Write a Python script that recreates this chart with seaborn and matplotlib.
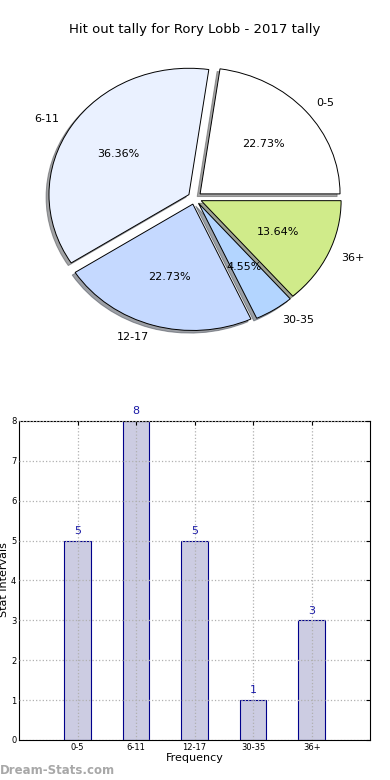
import matplotlib
matplotlib.use("Agg")
import matplotlib.pyplot as plt
import seaborn as sns
import pandas as pd

# data
intervals = ["0-5", "6-11", "12-17", "30-35", "36+"]
counts = [5, 8, 5, 1, 3]
pie_colors = ["#ffffff", "#eaf1ff", "#c5d9ff", "#b3d5ff", "#d0eb8a"]
title = "Hit out tally for Rory Lobb - 2017 tally"

sns.set_style("white")
plt.rcParams["font.family"] = ["DejaVu Sans"]
plt.rcParams["text.color"] = "black"
plt.rcParams["axes.labelcolor"] = "black"
plt.rcParams["xtick.color"] = "black"
plt.rcParams["ytick.color"] = "black"

fig = plt.figure(figsize=(3.9, 7.8), dpi=100)

# --- pie ---
ax_pie = fig.add_axes([0.051, 0.5436, 0.897, 0.405])
ax_pie.pie(
    counts,
    labels=intervals,
    colors=pie_colors,
    explode=[0.05] * len(counts),
    autopct="%.2f%%",
    shadow={"ox": -0.015, "oy": -0.015, "shade": 0.7},
    startangle=0,
    counterclock=True,
    wedgeprops={"edgecolor": "black", "linewidth": 0.7},
    textprops={"fontsize": 8, "color": "black"},
)
ax_pie.set_aspect("auto")
ax_pie.set_xlim(-1.25, 1.25)
ax_pie.set_ylim(-1.25, 1.25)
fig.text(0.5, 1 - 30 / 780, title, ha="center", va="center", fontsize=9.5)

# --- bars ---
df = pd.DataFrame({"interval": intervals, "count": counts})
ax = fig.add_axes([0.049, 0.0513, 0.9, 0.409])
sns.barplot(data=df, x="interval", y="count", order=intervals,
            color="#ccccE2", edgecolor="#00008b", linewidth=0.8,
            width=0.45, saturation=1, ax=ax)
ax.set_xlim(-1, 5)
ax.set_ylim(0, 8)
ax.set_yticks(range(0, 9))
ax.grid(True, linestyle=":", color="#b0b0b0", linewidth=0.9)
ax.set_axisbelow(False)
for s in ax.spines.values():
    s.set_visible(True)
    s.set_color("black")
    s.set_linewidth(0.8)
ax.tick_params(axis="both", labelsize=6, length=3, direction="in",
               top=True, right=True, pad=2)
for i, v in enumerate(counts):
    ax.text(i, v + 0.12, str(v), ha="center", va="bottom",
            fontsize=8, color="#1a1aa6")
ax.set_xlabel("Frequency", fontsize=8, labelpad=1)
ax.set_ylabel("")
fig.text(4 / 390, 1 - 580 / 780, "Stat Intervals", rotation=90,
         ha="center", va="center", fontsize=8)

fig.text(0.0, 1 - 771 / 780, "Dream-Stats.com", ha="left", va="center",
         fontsize=8.5, color="#a8a8a8", fontweight="bold")

fig.savefig("out.png", dpi=100)
